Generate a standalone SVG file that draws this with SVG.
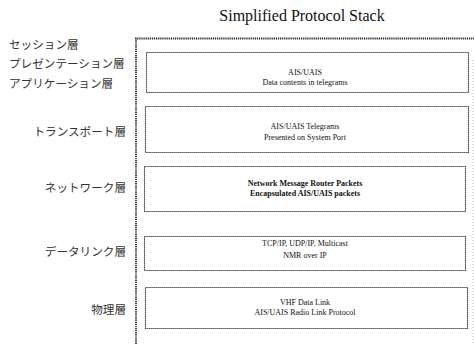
<svg xmlns="http://www.w3.org/2000/svg" width="474" height="344" viewBox="0 0 474 344">
<style>
.title{font-family:"Liberation Serif","Times New Roman",serif;font-size:16px;fill:#111;text-anchor:middle}
.jp{font-family:"Noto Sans CJK JP","Noto Sans CJK SC",sans-serif;font-size:11.6px;fill:#333}
.jpr{text-anchor:end}
.bt{font-family:"Liberation Serif","Times New Roman",serif;font-size:8px;fill:#111;text-anchor:middle}
.b{font-weight:bold}
.outer{fill:none;stroke:#222;stroke-width:1.8;stroke-dasharray:1.2 0.9}
.box{fill:#fff;stroke:#222;stroke-width:1.1;stroke-dasharray:1.2 0.8}
</style>
<rect width="474" height="344" fill="#fff"/>
<text class="title" x="302" y="21">Simplified Protocol Stack</text>
<g id="labels">
<text class="jp" x="9" y="49">セッション層</text>
<text class="jp" x="9" y="68">プレゼンテーション層</text>
<text class="jp" x="9" y="88">アプリケーション層</text>
<text class="jp jpr" x="126" y="136">トランスポート層</text>
<text class="jp jpr" x="126" y="192">ネットワーク層</text>
<text class="jp jpr" x="126" y="256">データリンク層</text>
<text class="jp jpr" x="126" y="314">物理層</text>
</g>
<g id="stack">
<path class="outer" d="M136,346 V38.5 H476"/>
<line x1="473" y1="60" x2="473" y2="344" stroke="#bbb" stroke-width="1" stroke-dasharray="1 2"/>
</g>
<g id="app">
<rect class="box" x="146.5" y="52.5" width="322" height="40"/>
<text class="bt" x="305" y="75">AIS/UAIS</text>
<text class="bt" x="305" y="85">Data contents in telegrams</text>
</g>
<g id="transport">
<rect class="box" x="145.5" y="106.5" width="323" height="46"/>
<text class="bt" x="305" y="129">AIS/UAIS Telegrams</text>
<text class="bt" x="305" y="140">Presented on System Port</text>
</g>
<g id="network">
<rect class="box" x="144.5" y="166.5" width="321" height="45"/>
<text class="bt b" x="305" y="186">Network Message Router Packets</text>
<text class="bt b" x="305" y="196">Encapsulated AIS/UAIS packets</text>
</g>
<g id="datalink">
<rect class="box" x="144.5" y="236.5" width="321" height="34"/>
<text class="bt" x="305" y="246">TCP/IP, UDP/IP, Multicast</text>
<text class="bt" x="305" y="258">NMR over IP</text>
</g>
<g id="physical">
<rect class="box" x="145.5" y="287.5" width="322" height="41"/>
<text class="bt" x="305" y="305">VHF Data Link</text>
<text class="bt" x="305" y="315">AIS/UAIS Radio Link Protocol</text>
</g>
<g id="connectors"></g>
</svg>
